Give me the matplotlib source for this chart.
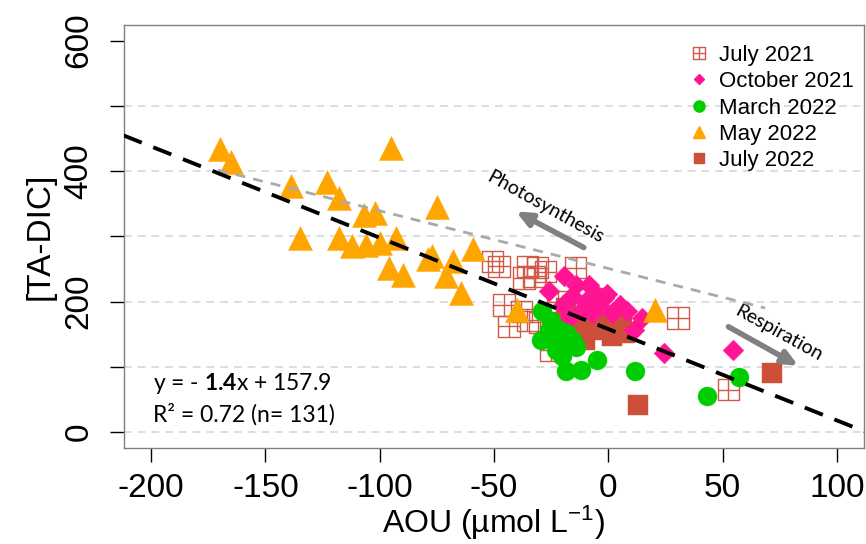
import matplotlib
matplotlib.use("Agg")
import matplotlib.pyplot as plt
from matplotlib import font_manager
from matplotlib.path import Path
from matplotlib.lines import Line2D

# AOU (x) and [TA-DIC] (y) for each sampling campaign
jul21_aou = [-50.7, -47.8, -35.4, -31.1, -27.4, -36.9, -32.5, -14.3, -45.6, -43.4,
             -35.4, -25.0, 30.5, 52.6, -30.0, -38.0, -22.0, -10.0, -5.0, -20.0]
jul21_tadic = [262, 254, 254, 252, 246, 236, 239, 252, 195, 162,
               172, 126, 175, 65, 168, 185, 200, 190, 205, 165]

oct21_aou = [-19.4, -26.0, -14.3, -8.5, -5.6, -0.5, 5.3, -15.8, -10.0, -4.1,
             1.7, 14.8, 11.1, -17.2, -12.1, -7.1, 24.5, 54.5, -2.0, -20.0, 8.0]
oct21_tadic = [239, 216, 226, 226, 213, 211, 195, 208, 200, 195,
               183, 175, 157, 175, 185, 183, 121, 126, 205, 195, 185]

mar22_aou = [-28.9, -29.6, -26.0, -21.6, -15.8, -18.7, -23.0, -20.2, -18.7, -12.1,
             -4.9, 11.9, -14.3, -21.6, 43.1, 57.0, -25.0, -17.0]
mar22_tadic = [185, 141, 157, 141, 141, 152, 126, 116, 93, 95,
               111, 93, 131, 157, 55, 85, 170, 135]

may22_aou = [-170, -165, -139, -123, -118, -135, -118, -112, -107, -102,
             -106, -100, -95, -96, -93, -90, -79, -77, -71, -64.5,
             -59, -75, -40, 20.6, -68]
may22_tadic = [434, 414, 377, 384, 359, 297, 297, 286, 332, 336,
               287, 290, 435, 252, 298, 241, 266, 270, 239, 213,
               281, 345, 187, 187, 262]

jul22_aou = [-18.7, -17.2, -11.4, -4.1, 1.7, 7.5, -10.0, -1.2, 6.0, 13.0,
             71.5, -8.0, 0.0, -14.0]
jul22_tadic = [190, 172, 157, 157, 147, 152, 141, 167, 167, 41.5,
               91, 175, 160, 165]

# regression fit and the reference (photosynthesis/respiration) line
slope, intercept = -1.4, 157.9
r2, n_obs = 0.72, 131
ref_aou = [-170.7, 68.6]
ref_tadic = [401.7, 190.2]

xticks = [-200, -150, -100, -50, 0, 50, 100]
yticks = [0, 100, 200, 300, 400, 500, 600]
ytick_labels = ["0", "", "200", "", "400", "", "600"]
grid_levels = [0, 100, 200, 300, 400, 500]

names = {f.name for f in font_manager.fontManager.ttflist}
axis_font = "Liberation Sans Narrow" if "Liberation Sans Narrow" in names else "Liberation Sans"

plt.rcParams["mathtext.fontset"] = "custom"
plt.rcParams["mathtext.rm"] = "Lato"
plt.rcParams["mathtext.bf"] = "Lato:bold"

# open square with a cross inside
sq_plus = Path([(-1, -1), (1, -1), (1, 1), (-1, 1), (-1, -1), (0, -1), (0, 1), (-1, 0), (1, 0)],
               [Path.MOVETO, Path.LINETO, Path.LINETO, Path.LINETO, Path.CLOSEPOLY,
                Path.MOVETO, Path.LINETO, Path.MOVETO, Path.LINETO])

c_jul21 = "#D05A45"
c_oct21 = "#FF1493"
c_mar22 = "#00CD00"
c_may22 = "#FFA500"
c_jul22 = "#CD4F39"

fig = plt.figure(figsize=(8.66, 5.44), dpi=100)
ax = fig.add_axes([0.1428, 0.177, 0.8552, 0.777])

for g in grid_levels:
    ax.axhline(g, color="#D3D3D3", lw=1.1, linestyle=(0, (5, 4)), zorder=0)

ax.scatter(jul21_aou, jul21_tadic, marker=sq_plus, s=235, facecolors="none",
           edgecolors=c_jul21, linewidths=1.0, zorder=2)
ax.scatter(jul22_aou, jul22_tadic, marker="s", s=207, color=c_jul22, linewidths=0.3, zorder=2)
ax.scatter(oct21_aou, oct21_tadic, marker="D", s=112, color=c_oct21, linewidths=0.3, zorder=3)
ax.scatter(mar22_aou, mar22_tadic, marker="o", s=187, color=c_mar22, linewidths=0.3, zorder=3)
ax.scatter(may22_aou, may22_tadic, marker="^", s=300, color=c_may22, linewidths=0.3, zorder=3)

ax.plot(ref_aou, ref_tadic, color="#AAAAAA", lw=2.0, linestyle=(0, (3.6, 2.9)), zorder=4)
xs = [-212, 112]
ax.plot(xs, [slope * x + intercept for x in xs], color="black", lw=2.8,
        linestyle=(0, (5, 3.2)), zorder=5)

arrow = dict(arrowstyle="-|>,head_length=0.45,head_width=0.2", lw=4, color="#808080",
             shrinkA=0, shrinkB=0, mutation_scale=20)
ax.annotate("", xy=(-40.4, 338.2), xytext=(-10.7, 282.9), arrowprops=arrow, zorder=4)
ax.annotate("", xy=(83.2, 101.5), xytext=(52.6, 161.4), arrowprops=arrow, zorder=4)
ax.text(-27.7, 344.3, "Photosynthesis", rotation=-29, rotation_mode="anchor",
        ha="center", va="center", fontsize=14, family="Lato")
ax.text(74.4, 152.2, "Respiration", rotation=-29, rotation_mode="anchor",
        ha="center", va="center", fontsize=14, family="Lato")

ax.text(0.04, 0.152, r"y = - $\mathbf{1.4}$x + 157.9", transform=ax.transAxes,
        ha="left", va="center", fontsize=16.5, family="Lato", zorder=6)
ax.text(0.04, 0.078, f"R² = {r2} (n= {n_obs})", transform=ax.transAxes,
        ha="left", va="center", fontsize=16.5, family="Lato", zorder=6)

ax.set_xlim(-212, 112)
ax.set_ylim(-24, 624)
ax.set_xticks(xticks)
ax.set_xticklabels([str(t) for t in xticks])
ax.set_yticks(yticks)
ax.set_yticklabels(ytick_labels, rotation=90, va="center")
ax.tick_params(axis="both", length=10, width=1.0, color="black", labelsize=24)
ax.tick_params(axis="x", pad=8)
ax.tick_params(axis="y", pad=11)
for lab in ax.get_xticklabels() + ax.get_yticklabels():
    lab.set_family(axis_font)
for sp in ax.spines.values():
    sp.set_color("#7F7F7F")
    sp.set_linewidth(1.0)

ax.set_xlabel(r"AOU (µmol L$\mathregular{^{-1}}$)", fontsize=23, family=axis_font, labelpad=0)
ax.set_ylabel("[TA-DIC]", fontsize=24, family=axis_font, labelpad=6)

handles = [
    Line2D([], [], marker=sq_plus, color=c_jul21, markerfacecolor="none", markersize=8,
           markeredgewidth=1.0, linestyle="None"),
    Line2D([], [], marker="D", color=c_oct21, markersize=5, linestyle="None"),
    Line2D([], [], marker="o", color=c_mar22, markersize=8, linestyle="None"),
    Line2D([], [], marker="^", color=c_may22, markersize=9, linestyle="None"),
    Line2D([], [], marker="s", color=c_jul22, markersize=7.2, linestyle="None"),
]
labels = ["July 2021", "October 2021", "March 2022", "May 2022", "July 2022"]
ax.legend(handles, labels, loc="upper left", bbox_to_anchor=(679 / 866, 1 - 36 / 544),
          bbox_transform=fig.transFigure, frameon=False, handlelength=1.0,
          handletextpad=0.42, labelspacing=0.24, borderaxespad=0,
          prop={"family": "Liberation Sans", "size": 16})

fig.savefig("out.png", dpi=100)
